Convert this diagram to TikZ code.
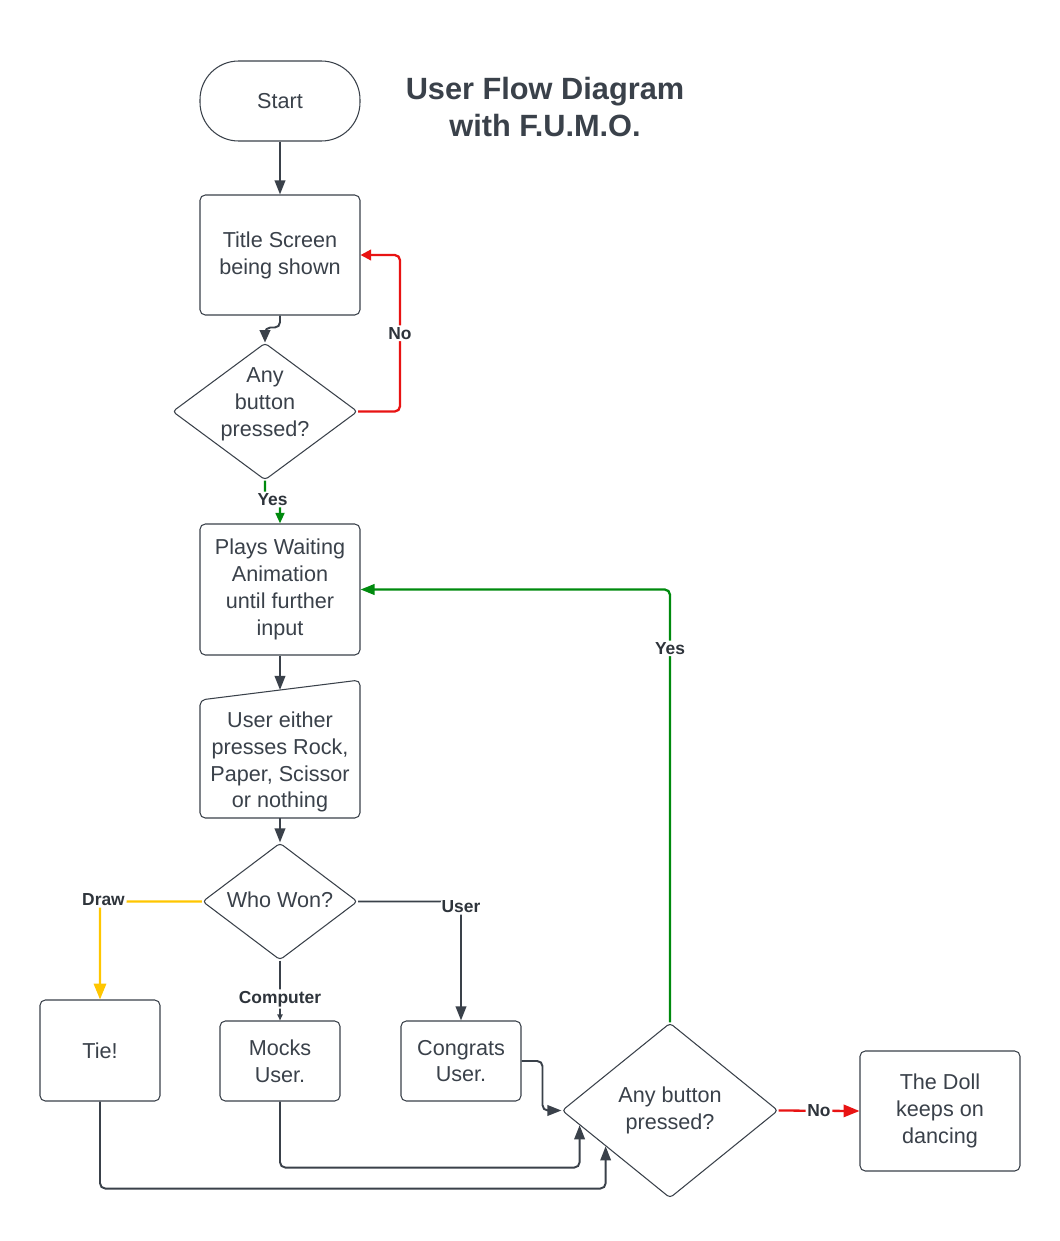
\documentclass[tikz,border=0pt]{standalone}
\usepackage{fontspec}
\setmainfont{Liberation Sans}
\usetikzlibrary{shapes.geometric,calc,arrows.meta}
\newcommand{\px}{0.02cm}
\definecolor{ink}{HTML}{3A414A}
\definecolor{noRed}{HTML}{E81313}
\definecolor{yesGreen}{HTML}{008A0E}
\definecolor{drawGold}{HTML}{FFC600}
\tikzset{
  boxtext/.style={text=ink,align=center,font=\fontsize{12.3pt}{15.3pt}\selectfont},
  box/.style={boxtext,draw=ink,line width=0.6pt,rounded corners=3pt,fill=white,inner sep=0pt,minimum width=160*\px,minimum height=120*\px},
  smallbox/.style={box,minimum width=120*\px,minimum height=80*\px},
  dia/.style={diamond,draw=ink,line width=0.6pt,rounded corners=2pt,fill=white,inner sep=0pt},
  lbl/.style={text=ink!80!black,fill=white,inner sep=1pt,font=\bfseries\fontsize{9.9pt}{11pt}\selectfont},
  flow/.style={draw=ink,line width=1.1pt,rounded corners=3pt,-{Triangle[length=8pt,width=6pt]}},
  noflow/.style={flow,draw=noRed,line width=1.3pt,-{Triangle[length=9pt,width=7pt]}},
  yesflow/.style={flow,draw=yesGreen,line width=1.3pt,-{Triangle[length=6pt,width=5pt]}},
  drawflow/.style={flow,draw=drawGold,line width=1.3pt,-{Triangle[length=9pt,width=7pt]}}
}

\begin{document}
\begin{tikzpicture}[x=\px,y=-\px]
  \useasboundingbox (0,0) rectangle (1060,1241);
  % title
  \node[text=ink,align=center,font=\bfseries\fontsize{17.5pt}{21.5pt}\selectfont] (heading) at (545,107) {User Flow Diagram\\with F.U.M.O.};

  % shapes
  \node[box,rounded corners=22pt,minimum height=80*\px] (start) at (280,101) {Start};
  \node[box] (screen) at (280,255) {Title Screen\\being shown};
  \node[dia,minimum width=185*\px,minimum height=137*\px,
        label={[boxtext,yshift=4pt]center:Any\\button\\pressed?}] (anyA) at (265,411.5) {};
  \node[box,minimum height=131*\px] (waiting) at (280,589.5) {Plays Waiting\\Animation\\until further\\input};
  \coordinate (inA) at (200,700);
  \coordinate (inB) at (360,680);
  \draw[draw=ink,line width=0.6pt,rounded corners=3pt,fill=white] (200,818) -- (inA) -- (inB) -- (360,818) -- cycle;
  \node[boxtext] (input) at (280,762) {User either\\presses Rock,\\Paper, Scissor\\or nothing};
  \node[dia,minimum width=155*\px,minimum height=117*\px,
        label={[boxtext,yshift=1pt]center:Who Won?}] (winner) at (280,901.5) {};
  \node[smallbox,minimum height=101*\px] (tie) at (100,1050.5) {Tie!};
  \node[smallbox] (mocks) at (280,1061) {Mocks\\User.};
  \node[smallbox] (congrats) at (461,1061) {Congrats\\User.};
  \node[dia,minimum width=216*\px,minimum height=175*\px,
        label={[boxtext]center:Any button\\pressed?}] (anyB) at (670,1110.5) {};
  \node[box] (doll) at (940,1111) {The Doll\\keeps on\\dancing};

  \coordinate (inTop) at ($(inA)!0.5!(inB)$);
  \coordinate (hitM) at ($(anyB.west)!0.167!(anyB.south)$);
  \coordinate (hitT) at ($(anyB.west)!0.407!(anyB.south)$);

  % connectors
  \draw[flow] (start) -- (screen);
  \draw[flow,-{Triangle[length=7pt,width=6pt]}] (screen.south) -- ++(0,12) -| (anyA.north);
  \draw[noflow,-{Triangle[length=6pt,width=6pt]}] (anyA.east) -- ++(42,0) |- node[lbl,pos=0.25] (noA) {No} (screen.east);
  \draw[yesflow] (anyA.south) -- ++(0,19) -| node[lbl,pos=0.25] (yesA) {Yes} (waiting.north);
  \draw[flow] (waiting) -- (inTop);
  \draw[flow] (input.south |- 818,818) -- (winner.north);
  \draw[drawflow] (winner.west) -| node[lbl,pos=0.5,xshift=2pt,yshift=1pt] (drawlbl) {Draw} (tie.north);
  \draw[flow,-{Triangle[length=3.5pt,width=3pt]}] (winner.south) -- node[lbl,pos=0.64] (complbl) {Computer} (mocks.north);
  \draw[flow] (winner.east) -| node[lbl,pos=0.5,yshift=-3pt] (userlbl) {User} (congrats.north);
  \draw[flow] (congrats.east) -- ++(21,0) |- (anyB.west);
  \draw[flow] (mocks.south) -- ++(0,66) -| (hitM);
  \draw[flow] (tie.south) -- ++(0,87) -| (hitT);
  \draw[yesflow,-{Triangle[length=8pt,width=6pt]}] (anyB.north) |- node[lbl,pos=0.432] (yesB) {Yes} (waiting.east);
  \draw[noflow] (anyB.east) -- node[lbl,pos=0.5] (noB) {No} (doll.west);
\end{tikzpicture}
\end{document}
